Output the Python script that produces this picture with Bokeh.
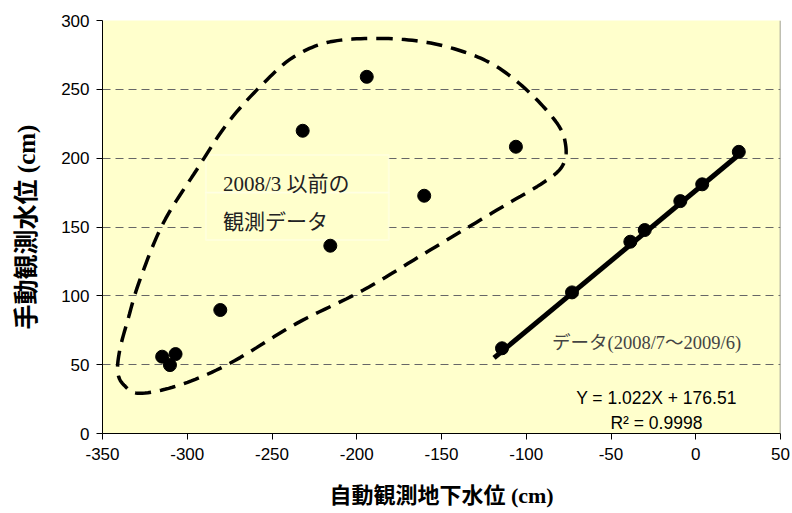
import numpy as np
from bokeh.plotting import figure
from bokeh.models import Range1d, BoxAnnotation, Label, Span, FixedTicker
from bokeh.embed import file_html
from bokeh.resources import INLINE

# ---------------- data ----------------
# before 2008/3 (manual vs automatic)
old_x = [-194.1, -231.9, -106.1, -160.2, -215.6, -280.5, -314.8, -306.9, -310.2]
old_y = [259.1, 219.9, 208.3, 172.7, 136.4, 89.7, 55.8, 57.7, 49.7]
# 2008/7 - 2009/6
new_x = [-114.3, -73.0, -38.6, -30.1, -9.1, 3.8, 25.4]
new_y = [61.9, 102.5, 139.3, 147.8, 168.8, 181.0, 204.6]
# regression  Y = 1.022X + 176.51
fit_slope = 1.022
fit_intercept = 176.51
fit_x_span = [-119.0, 25.4]
# hand-drawn dashed outline around old data (data coordinates)
outline_x = [-188.2, -160.6, -137.0, -117.3, -97.6, -81.8, -76.9, -77.9, -87.7,
             -117.3, -156.7, -196.1, -235.4, -274.8, -304.3, -328.0, -337.4,
             -341.0, -339.8, -335.1, -328.0, -314.2, -294.5, -274.8, -251.2,
             -235.4, -215.7]
outline_y = [287.0, 284.5, 277.3, 266.4, 247.1, 225.3, 210.7, 196.2, 184.1,
             162.3, 133.3, 104.2, 80.0, 51.0, 35.3, 29.2, 35.3, 44.7, 60.7,
             82.4, 111.4, 152.7, 191.4, 227.7, 259.1, 274.9, 284.5]
x_ticks = [-350, -300, -250, -200, -150, -100, -50, 0, 50]
x_tick_labels = ["-350", "-300", "-250", "-200", "-150", "-100", "-50", "0", "50"]
y_ticks = [0, 50, 100, 150, 200, 250, 300]
y_tick_labels = ["0", "50", "100", "150", "200", "250", "300"]

x_title = "自動観測地下水位 (cm)"
y_title = "手動観測水位 (cm)"
box_line1 = "2008/3 以前の"
box_line2 = "観測データ"
new_label = "データ(2008/7～2009/6)"
eq_text = "Y = 1.022X + 176.51"
r2_text = "R² = 0.9998"

SERIF = "Liberation Serif, Noto Sans CJK JP"
SANS = "Liberation Sans"


def closed_catmull_rom(xs, ys, n=12):
    pts = np.column_stack([xs, ys]).astype(float)
    m = len(pts)
    out = []
    for i in range(m):
        p0, p1, p2, p3 = pts[(i - 1) % m], pts[i], pts[(i + 1) % m], pts[(i + 2) % m]
        for t in np.linspace(0, 1, n, endpoint=False):
            t2, t3 = t * t, t * t * t
            out.append(0.5 * ((2 * p1) + (-p0 + p2) * t + (2 * p0 - 5 * p1 + 4 * p2 - p3) * t2
                              + (-p0 + 3 * p1 - 3 * p2 + p3) * t3))
    out.append(out[0])
    out = np.array(out)
    return out[:, 0], out[:, 1]


p = figure(width=790, height=513, output_backend="svg", toolbar_location=None,
           x_range=Range1d(-350, 50), y_range=Range1d(0, 300),
           min_border_left=102, min_border_right=10, min_border_top=20, min_border_bottom=80)

p.background_fill_color = "#FFFFCC"
p.border_fill_color = "white"
p.outline_line_color = None

# grid
p.xgrid.visible = False
p.ygrid.ticker = FixedTicker(ticks=y_ticks)
p.ygrid.grid_line_color = "#666666"
p.ygrid.grid_line_dash = "8 5"
p.ygrid.grid_line_width = 1

# axes
for ax in (p.xaxis[0], p.yaxis[0]):
    ax.axis_line_color = "black"
    ax.major_tick_line_color = "black"
    ax.minor_tick_line_color = None
    ax.major_tick_in = 0
    ax.major_tick_out = 6
    ax.major_label_text_font = SANS
    ax.major_label_text_font_size = "17px"
    ax.major_label_text_color = "black"
    ax.axis_label_text_font = SERIF
    ax.axis_label_text_font_style = "bold"
    ax.axis_label_text_color = "black"
p.xaxis.ticker = FixedTicker(ticks=x_ticks)
p.yaxis.ticker = FixedTicker(ticks=y_ticks)
p.xaxis.major_label_overrides = {t: s for t, s in zip(x_ticks, x_tick_labels)}
p.yaxis.major_label_overrides = {t: s for t, s in zip(y_ticks, y_tick_labels)}
p.xaxis.axis_label = x_title
p.yaxis.axis_label = y_title
p.xaxis.axis_label_text_font_size = "22px"
p.yaxis.axis_label_text_font_size = "25px"
p.xaxis.major_label_standoff = 8
p.yaxis.major_label_standoff = 7
p.xaxis.axis_label_standoff = 20
p.yaxis.axis_label_standoff = 18

# right frame edge
p.add_layout(Span(location=50, dimension="height", line_color="#808080", line_width=1.5))

# text box (drawn under glyphs, over grid)
p.add_layout(BoxAnnotation(left=-289.0, right=-181.1, bottom=174.9, top=202.3,
                           fill_color="#FFFFCC", fill_alpha=1, line_color="white",
                           line_width=2, level="underlay"))
p.add_layout(BoxAnnotation(left=-289.0, right=-181.1, bottom=140.5, top=174.9,
                           fill_color="#FFFFCC", fill_alpha=1, line_color="white",
                           line_width=2, level="underlay"))

# dashed outline
ox, oy = closed_catmull_rom(outline_x, outline_y)
p.line(ox, oy, line_color="black", line_width=3.5, line_dash="16 9")

# regression line
fx = np.array(fit_x_span)
p.line(fx, fit_slope * fx + fit_intercept, line_color="black", line_width=5)

# points
p.scatter(old_x, old_y, size=13, color="black")
p.scatter(new_x, new_y, size=13, color="black")

# labels
p.add_layout(Label(x=-278.9, y=181.2, text=box_line1, text_font=SERIF,
                   text_font_size="21px", text_color="#222222", text_baseline="alphabetic"))
p.add_layout(Label(x=-278.9, y=153.8, text=box_line2, text_font=SERIF,
                   text_font_size="21px", text_color="#222222", text_baseline="alphabetic"))
p.add_layout(Label(x=-84.8, y=65.5, text=new_label, text_font=SERIF,
                   text_font_size="18.5px", text_color="#444444", text_baseline="alphabetic"))
p.add_layout(Label(x=-23.2, y=25.6, text=eq_text, text_font=SANS, text_align="center",
                   text_font_size="17.5px", text_color="black", text_baseline="alphabetic"))
p.add_layout(Label(x=-23.2, y=7.4, text=r2_text, text_font=SANS, text_align="center",
                   text_font_size="17.5px", text_color="black", text_baseline="alphabetic"))

open("out.html", "w").write(file_html(p, INLINE))
